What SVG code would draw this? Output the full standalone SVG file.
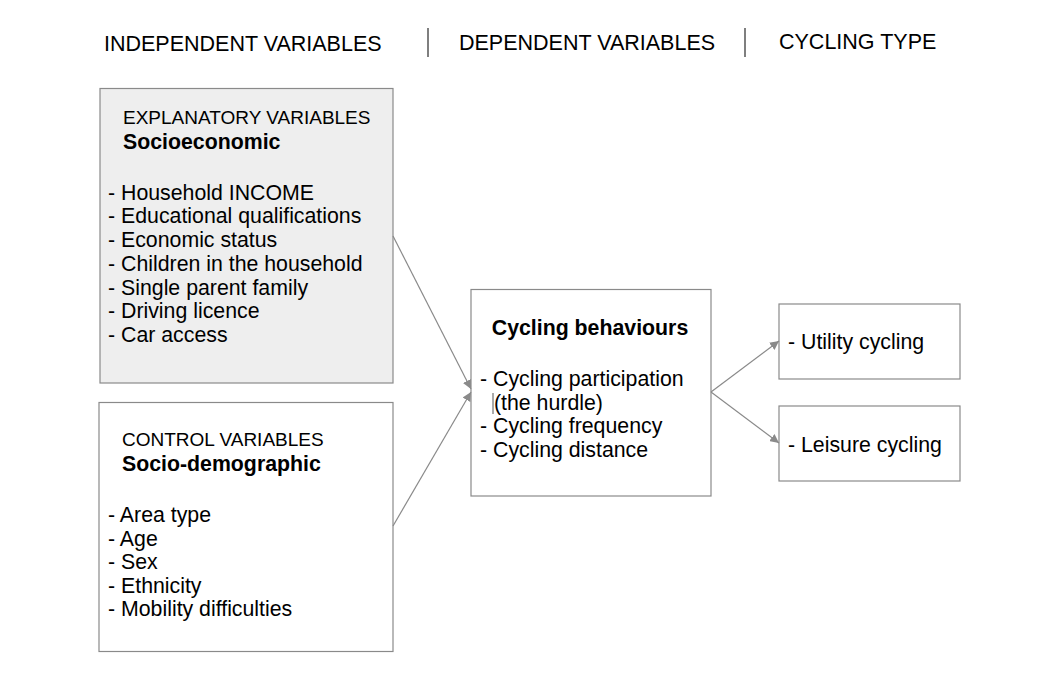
<svg xmlns="http://www.w3.org/2000/svg" width="1058" height="685" viewBox="0 0 1058 685">
<style>
text { font-family: "Liberation Sans", Arial, sans-serif; fill: #000; }
.hdr { font-size: 21.5px; }
.cap { font-size: 19px; }
.bold { font-size: 21.3px; font-weight: bold; }
.item { font-size: 21.3px; }
.box { stroke: #8a8a8a; stroke-width: 1.2; }
.sep { stroke: #555; stroke-width: 1.5; }
.conn { stroke: #8a8a8a; stroke-width: 1.2; fill: none; }
</style>
<defs>
<marker id="arr" viewBox="0 0 10 10" refX="10" refY="5" markerWidth="9" markerHeight="9" markerUnits="userSpaceOnUse" orient="auto">
<path d="M0,0 L10,5 L0,10 Z" fill="#8a8a8a"/>
</marker>
</defs>
<rect width="1058" height="685" fill="#fff"/>
<g id="headers">
<text class="hdr" x="104" y="51">INDEPENDENT VARIABLES</text>
<text class="hdr" x="459" y="50">DEPENDENT VARIABLES</text>
<text class="hdr" x="779" y="49">CYCLING TYPE</text>
<line class="sep" x1="428" y1="28" x2="428" y2="57"/>
<line class="sep" x1="745" y1="28" x2="745" y2="57"/>
</g>
<g id="explanatory">
<rect class="box" x="100" y="88.5" width="293" height="294.5" fill="#eeeeee"/>
<text class="cap" x="123" y="124">EXPLANATORY VARIABLES</text>
<text class="bold" x="123" y="149">Socioeconomic</text>
<text class="item" x="108" y="200">- Household INCOME</text>
<text class="item" x="108" y="223">- Educational qualifications</text>
<text class="item" x="108" y="247">- Economic status</text>
<text class="item" x="108" y="271">- Children in the household</text>
<text class="item" x="108" y="295">- Single parent family</text>
<text class="item" x="108" y="318">- Driving licence</text>
<text class="item" x="108" y="342">- Car access</text>
</g>
<g id="control">
<rect class="box" x="99" y="402.5" width="294" height="249" fill="#ffffff"/>
<text class="cap" x="122" y="446">CONTROL VARIABLES</text>
<text class="bold" x="122" y="471">Socio-demographic</text>
<text class="item" x="108" y="522">- Area type</text>
<text class="item" x="108" y="546">- Age</text>
<text class="item" x="108" y="569">- Sex</text>
<text class="item" x="108" y="593">- Ethnicity</text>
<text class="item" x="108" y="616">- Mobility difficulties</text>
</g>
<g id="behaviours">
<rect class="box" x="471" y="289.5" width="240" height="206.5" fill="#ffffff"/>
<text class="bold" x="590" y="335" text-anchor="middle">Cycling behaviours</text>
<text class="item" x="480" y="386">- Cycling participation</text>
<line x1="493" y1="393" x2="493" y2="414" stroke="#555" stroke-width="1"/>
<text class="item" x="494" y="410">(the hurdle)</text>
<text class="item" x="480" y="433">- Cycling frequency</text>
<text class="item" x="480" y="457">- Cycling distance</text>
</g>
<g id="utility">
<rect class="box" x="779" y="304" width="181" height="75" fill="#ffffff"/>
<text class="item" x="788" y="349">- Utility cycling</text>
</g>
<g id="leisure">
<rect class="box" x="779" y="406" width="181" height="75" fill="#ffffff"/>
<text class="item" x="788" y="452">- Leisure cycling</text>
</g>
<g id="connectors">
<line class="conn" x1="393" y1="236" x2="471" y2="389" marker-end="url(#arr)"/>
<line class="conn" x1="393" y1="526" x2="471" y2="392" marker-end="url(#arr)"/>
<line class="conn" x1="711" y1="392" x2="779" y2="341" marker-end="url(#arr)"/>
<line class="conn" x1="711" y1="392" x2="779" y2="443" marker-end="url(#arr)"/>
</g>
</svg>
